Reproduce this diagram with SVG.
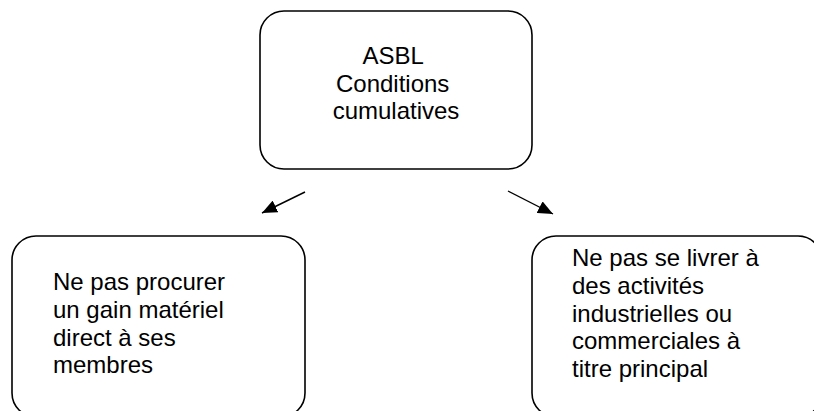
<svg xmlns="http://www.w3.org/2000/svg" width="814" height="411" viewBox="0 0 814 411">
  <style>
    .box { fill: #ffffff; stroke: #000000; stroke-width: 1.6; }
    .t { font-family: "Liberation Sans", Arial, sans-serif; font-size: 24px; fill: #000000; }
    .conn { stroke: #000000; stroke-width: 1.4; fill: none; }
  </style>
  <defs>
    <marker id="arrow" viewBox="0 0 15 13" refX="15" refY="6.5" markerWidth="15" markerHeight="13" markerUnits="userSpaceOnUse" orient="auto">
      <path d="M0,0 L15,6.5 L0,13 z" fill="#000000"/>
    </marker>
  </defs>
  <rect width="814" height="411" fill="#ffffff"/>
  <g id="connectors">
    <line class="conn" x1="305" y1="192" x2="262" y2="213" marker-end="url(#arrow)"/>
    <line class="conn" x1="508" y1="191" x2="553" y2="214" marker-end="url(#arrow)"/>
  </g>
  <g id="node-asbl">
    <rect class="box" x="260" y="11" width="272" height="158" rx="24" ry="24"/>
    <text class="t" text-anchor="middle">
      <tspan x="396" y="64">ASBL</tspan>
      <tspan x="396" y="91.5">Conditions</tspan>
      <tspan x="396" y="119">cumulatives</tspan>
    </text>
  </g>
  <g id="node-gain">
    <rect class="box" x="12" y="236" width="293" height="181" rx="24" ry="24"/>
    <text class="t">
      <tspan x="53" y="290">Ne pas procurer</tspan>
      <tspan x="53" y="318">un gain matériel</tspan>
      <tspan x="53" y="345.5">direct à ses</tspan>
      <tspan x="53" y="373">membres</tspan>
    </text>
  </g>
  <g id="node-activites">
    <rect class="box" x="532" y="236" width="290" height="181" rx="24" ry="24"/>
    <text class="t">
      <tspan x="572" y="266">Ne pas se livrer à</tspan>
      <tspan x="572" y="294">des activités</tspan>
      <tspan x="572" y="321.5">industrielles ou</tspan>
      <tspan x="572" y="349">commerciales à</tspan>
      <tspan x="572" y="377">titre principal</tspan>
    </text>
  </g>
</svg>
